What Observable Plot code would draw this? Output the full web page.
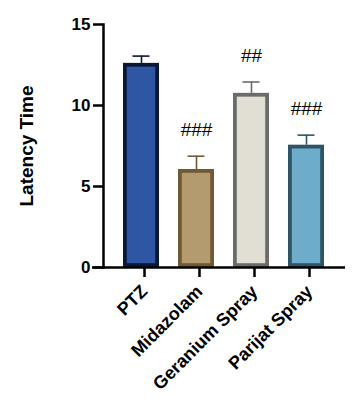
<!DOCTYPE html>
<html><head><meta charset="utf-8">
<script src="https://cdn.jsdelivr.net/npm/d3@7"></script>
<script src="https://cdn.jsdelivr.net/npm/@observablehq/plot@0.6"></script>
<style>body{margin:0;background:#fff;} svg{display:block;}</style>
</head><body><div id="chart"></div>
<script>
const groups = ["PTZ", "Midazolam", "Geranium Spray", "Parijat Spray"];
const means = [12.6, 6.05, 10.75, 7.55];
const errors = [0.45, 0.82, 0.7, 0.62];
const marks = ["", "###", "##", "###"];
const fills = ["#2f56a2", "#b39b6f", "#e1ded4", "#6daccb"];
const strokes = ["#0a1838", "#6f5a33", "#6b6b6b", "#2f5564"];
const yTicks = [0, 5, 10, 15];

const data = groups.map((g, i) => ({g, m: means[i], e: errors[i], top: means[i] + errors[i], lab: marks[i], fill: fills[i], stroke: strokes[i]}));

const font = "Liberation Sans, Arial, sans-serif";
const chart = Plot.plot({
  width: 354, height: 399,
  marginLeft: 103, marginRight: 9, marginTop: 24, marginBottom: 132,
  style: {fontFamily: font, background: "#fff"},
  x: {domain: groups, padding: 0.34, align: 0.5, label: null},
  y: {domain: [0, 15], label: null},
  marks: [
    Plot.ruleX(data, {x: "g", y1: "m", y2: "top", stroke: "stroke", strokeWidth: 1.6}),
    Plot.tickY(data, {x: "g", y: "top", stroke: "stroke", strokeWidth: 1.6, inset: 9.5}),
    Plot.barY(data, {x: "g", y: "m", fill: "fill", stroke: "stroke", strokeWidth: 3.8, inset: 1.9}),
    Plot.text(data, {x: "g", y: "top", text: "lab", dy: -26, fontSize: 19, fill: "#000", fontFamily: font}),
    Plot.axisY({ticks: yTicks, tickSize: 10, tickPadding: 3, strokeWidth: 2.5, fontSize: 17, fontWeight: "bold", fill: "#000", stroke: "#000", label: null}),
    Plot.axisY({ticks: [], label: "Latency Time", labelAnchor: "center", labelArrow: "none", labelOffset: 84, fontSize: 19, fontWeight: "bold", fill: "#000"}),
    Plot.axisX({tickSize: 10, tickRotate: -45, tickPadding: 11, dx: 3, strokeWidth: 2.5, fontSize: 18, fontWeight: "bold", fill: "#000", stroke: "#000"}),
    Plot.frame({anchor: "left", strokeWidth: 2.5, stroke: "#000"}),
    Plot.ruleY([0], {strokeWidth: 2.5, stroke: "#000", insetLeft: -11})
  ]
});
document.getElementById("chart").appendChild(chart);
</script></body></html>
